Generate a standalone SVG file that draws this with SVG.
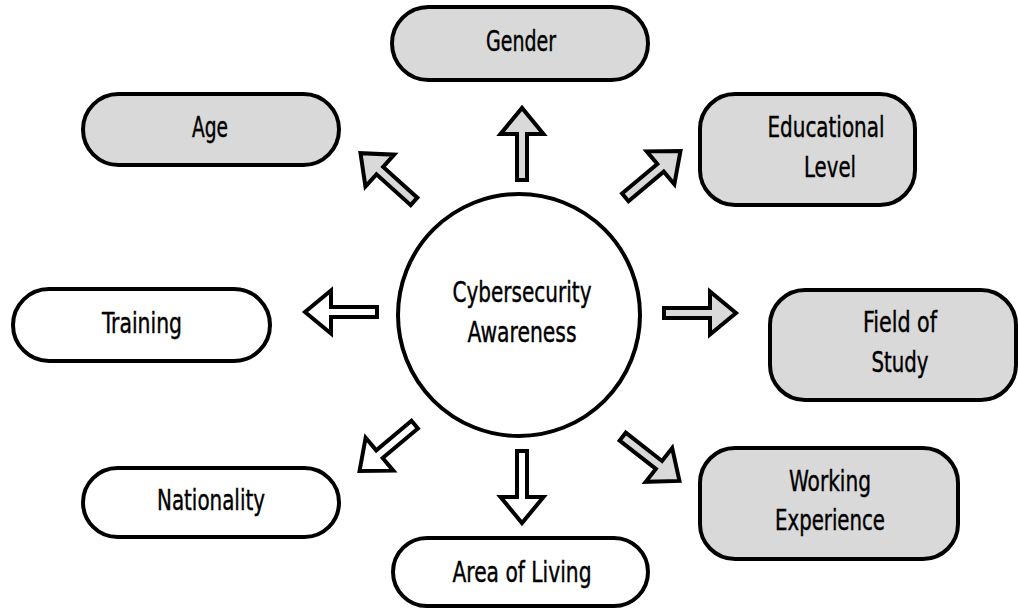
<svg xmlns="http://www.w3.org/2000/svg" xmlns:xlink="http://www.w3.org/1999/xlink" width="1018" height="610" viewBox="0 0 1018 610">
  <style>
    .box { stroke: #000; stroke-width: 4; }
    .gray { fill: #d9d9d9; }
    .white { fill: #fff; }
    .arrow { stroke: #000; stroke-width: 4; stroke-linejoin: miter; stroke-miterlimit: 10; }
    .lbl { font-family: "DejaVu Sans Condensed", "DejaVu Sans", sans-serif; font-stretch: condensed; font-size: 28px; fill: #000; stroke: #000; stroke-width: 0.4; text-anchor: middle; }
  </style>
  <defs>
    <!-- block arrow pointing along +x, tail at origin -->
    <path id="blockArrow" d="M0,-5 L46,-5 L46,-21.5 L72,0 L46,21.5 L46,5 L0,5 Z"/>
  </defs>

  <rect width="1018" height="610" fill="#fff"/>

  <!-- connectors -->
  <g id="connectors">
    <use xlink:href="#blockArrow" class="arrow gray" transform="translate(522,180) rotate(-90)"/>
    <use xlink:href="#blockArrow" class="arrow gray" transform="translate(414,201.4) rotate(-138)"/>
    <use xlink:href="#blockArrow" class="arrow gray" transform="translate(625.3,197.4) rotate(-40)"/>
    <use xlink:href="#blockArrow" class="arrow gray" transform="translate(664,313)"/>
    <use xlink:href="#blockArrow" class="arrow gray" transform="translate(622.7,436.6) rotate(38)"/>
    <use xlink:href="#blockArrow" class="arrow white" transform="translate(377,312) rotate(180)"/>
    <use xlink:href="#blockArrow" class="arrow white" transform="translate(414.7,424.6) rotate(140)"/>
    <use xlink:href="#blockArrow" class="arrow white" transform="translate(522,451) rotate(90)"/>
  </g>

  <g id="center">
    <circle cx="519" cy="315" r="121" class="box white"/>
    <text x="522" y="302" class="lbl" textLength="139" lengthAdjust="spacingAndGlyphs">Cybersecurity</text>
    <text x="522" y="342" class="lbl" textLength="109" lengthAdjust="spacingAndGlyphs">Awareness</text>
  </g>

  <g id="gender">
    <rect x="392" y="7" width="256" height="73" rx="36.5" class="box gray"/>
    <text x="521" y="51" class="lbl" textLength="70" lengthAdjust="spacingAndGlyphs">Gender</text>
  </g>

  <g id="age">
    <rect x="83" y="94" width="256" height="71" rx="35.5" class="box gray"/>
    <text x="210" y="137" class="lbl" textLength="36" lengthAdjust="spacingAndGlyphs">Age</text>
  </g>

  <g id="educational-level">
    <rect x="700" y="94" width="215" height="111" rx="35" class="box gray"/>
    <text x="826" y="137" class="lbl" textLength="117" lengthAdjust="spacingAndGlyphs">Educational</text>
    <text x="830" y="177" class="lbl" textLength="52" lengthAdjust="spacingAndGlyphs">Level</text>
  </g>

  <g id="field-of-study">
    <rect x="770" y="290" width="246" height="110" rx="35" class="box gray"/>
    <text x="900" y="332" class="lbl" textLength="74" lengthAdjust="spacingAndGlyphs">Field of</text>
    <text x="900" y="372" class="lbl" textLength="57" lengthAdjust="spacingAndGlyphs">Study</text>
  </g>

  <g id="working-experience">
    <rect x="700" y="448" width="258" height="111" rx="35" class="box gray"/>
    <text x="830" y="491" class="lbl" textLength="82" lengthAdjust="spacingAndGlyphs">Working</text>
    <text x="830" y="530" class="lbl" textLength="110" lengthAdjust="spacingAndGlyphs">Experience</text>
  </g>

  <g id="training">
    <rect x="13" y="289" width="257" height="72" rx="36" class="box white"/>
    <text x="142" y="333" class="lbl" textLength="80" lengthAdjust="spacingAndGlyphs">Training</text>
  </g>

  <g id="nationality">
    <rect x="83" y="468" width="256" height="69" rx="34.5" class="box white"/>
    <text x="211" y="510" class="lbl" textLength="108" lengthAdjust="spacingAndGlyphs">Nationality</text>
  </g>

  <g id="area-of-living">
    <rect x="393" y="538" width="255" height="68" rx="34" class="box white"/>
    <text x="522" y="582" class="lbl" textLength="139" lengthAdjust="spacingAndGlyphs">Area of Living</text>
  </g>
</svg>
